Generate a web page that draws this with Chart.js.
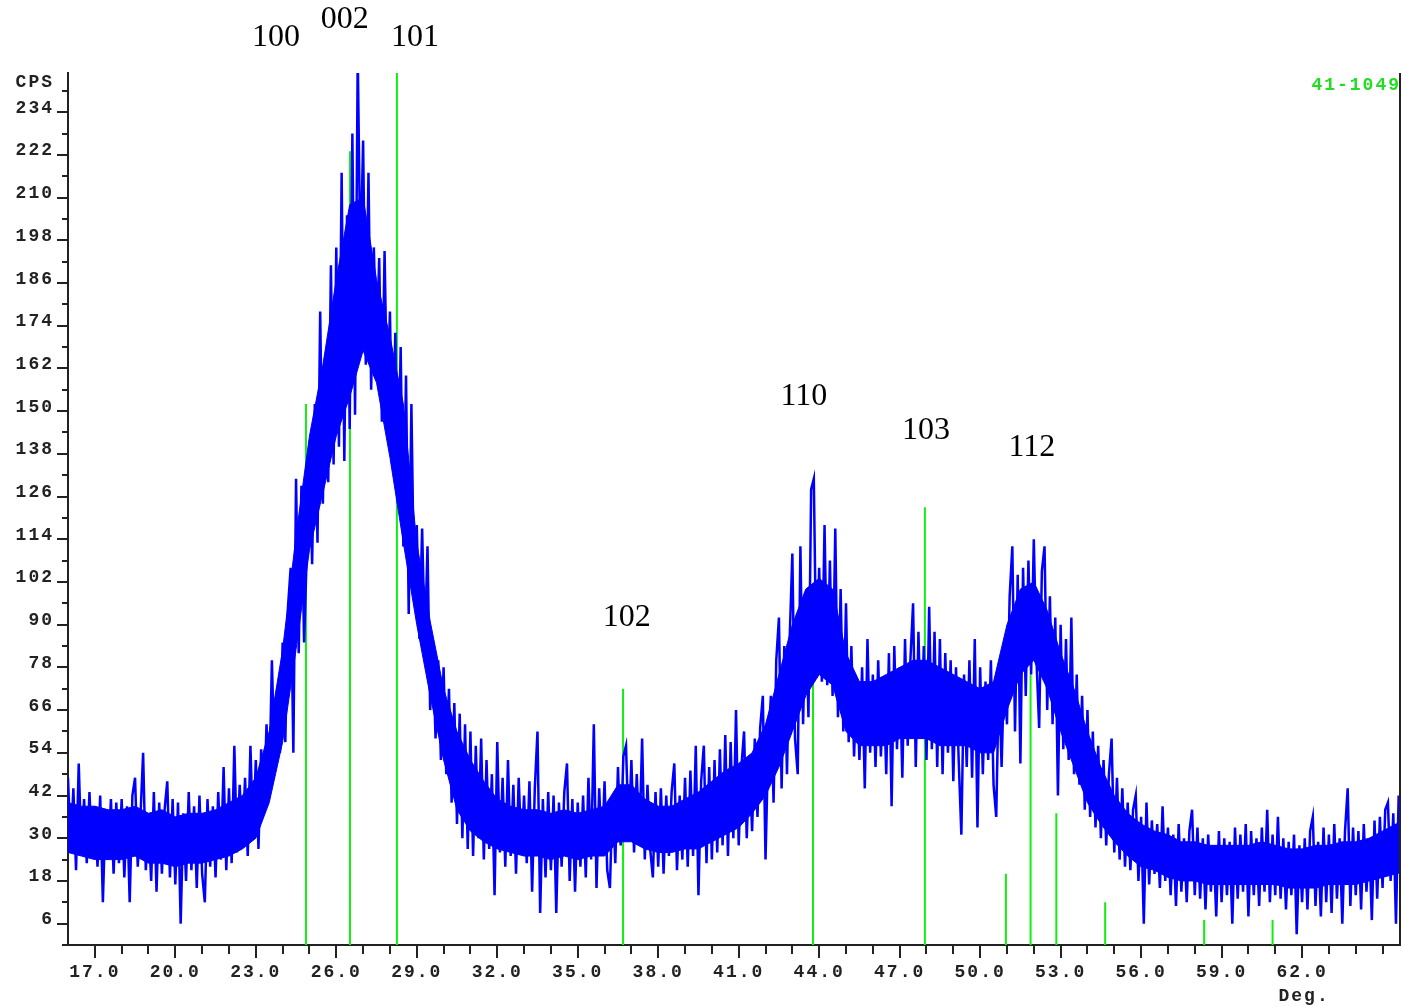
<!DOCTYPE html>
<html>
<head>
<meta charset="utf-8">
<title>XRD 41-1049</title>
<script src="https://cdn.jsdelivr.net/npm/chart.js@4.4.1/dist/chart.umd.min.js"></script>
<style>
html, body { margin: 0; padding: 0; background: #fff; }
#wrap { width: 1403px; height: 1008px; }
</style>
</head>
<body>
<div id="wrap"><canvas id="xrd" width="1403" height="1008"></canvas></div>
<script>
// scan: 16.0 deg, 0.1 deg per step
const scanStart = 16.0;
const scanStep = 0.1;

// counts, one row per degree (x.0 .. x.9)
const counts = [
  47, 27, 44, 21, 51, 26, 41, 23, 43, 25,
  39, 22, 42, 12, 38, 24, 41, 20, 40, 23,
  41, 19, 39, 12, 42, 47, 22, 36, 54, 21,
  35, 18, 43, 15, 40, 20, 38, 46, 19, 41,
  17, 40, 6, 37, 18, 43, 21, 39, 16, 42,
  20, 12, 41, 22, 39, 19, 43, 24, 50, 21,
  44, 23, 56, 26, 45, 28, 47, 25, 56, 30,
  52, 27, 55, 38, 62, 43, 80, 50, 72, 54,
  85, 57, 95, 106, 54, 131, 82, 129, 85, 110,
  140, 107, 152, 113, 178, 124, 166, 130, 191, 135,
  196, 140, 217, 136, 205, 145, 228, 149, 250, 190,
  226, 163, 217, 156, 196, 166, 193, 147, 195, 150,
  178, 134, 172, 124, 168, 112, 160, 93, 152, 100,
  118, 86, 117, 84, 112, 66, 84, 58, 80, 52,
  78, 48, 72, 40, 68, 34, 65, 30, 62, 27,
  60, 25, 56, 30, 58, 24, 52, 27, 48, 14,
  57, 26, 47, 22, 52, 25, 45, 20, 47, 26,
  42, 23, 46, 15, 44, 60, 9, 41, 19, 43,
  21, 42, 9, 40, 22, 43, 51, 18, 41, 15,
  40, 22, 42, 19, 47, 24, 62, 16, 44, 25,
  46, 21, 16, 42, 23, 50, 28, 53, 56, 30,
  52, 26, 48, 29, 58, 24, 45, 27, 19, 43,
  22, 44, 20, 42, 25, 43, 51, 21, 42, 24,
  47, 22, 49, 25, 56, 14, 46, 56, 23, 50,
  24, 52, 26, 55, 28, 59, 25, 57, 30, 66,
  28, 50, 60, 30, 52, 32, 58, 36, 61, 70,
  24, 56, 70, 40, 80, 92, 44, 84, 48, 86,
  110, 58, 48, 112, 62, 96, 64, 128, 131, 75,
  106, 74, 118, 73, 108, 70, 117, 64, 100, 60,
  96, 57, 84, 53, 74, 52, 78, 44, 86, 54,
  76, 50, 80, 53, 74, 48, 82, 39, 84, 55,
  78, 47, 86, 56, 80, 96, 50, 88, 58, 84,
  52, 95, 55, 88, 50, 86, 48, 82, 54, 80,
  46, 78, 52, 31, 76, 50, 80, 47, 86, 33,
  78, 48, 74, 52, 80, 45, 36, 76, 50, 79,
  62, 98, 112, 60, 104, 51, 106, 70, 108, 76,
  114, 80, 61, 105, 112, 66, 98, 62, 92, 42,
  90, 55, 86, 52, 92, 48, 76, 45, 70, 38,
  66, 36, 60, 33, 56, 30, 52, 28, 48, 58,
  26, 47, 24, 44, 22, 40, 21, 38, 42, 18,
  36, 6, 40, 17, 35, 20, 34, 16, 39, 18,
  33, 14, 31, 11, 34, 15, 30, 12, 32, 38,
  14, 33, 13, 30, 10, 31, 15, 28, 8, 32,
  12, 30, 14, 29, 6, 33, 13, 31, 15, 34,
  8, 32, 14, 30, 11, 33, 15, 38, 12, 31,
  14, 36, 13, 30, 10, 29, 14, 31, 3, 28,
  12, 30, 10, 32, 36, 11, 29, 8, 33, 12,
  31, 9, 34, 13, 30, 6, 32, 44, 11, 33,
  14, 32, 10, 34, 15, 30, 7, 35, 13, 36,
  16, 38, 40, 18, 37, 6, 42
];

// dense core of the noisy trace, every 0.5 deg from 16.0 (upper / lower edge)
const coreStep = 0.5;
const coreHigh = [
  40, 39, 39, 38, 38, 39, 37, 38, 36, 37,
  37, 38, 40, 42, 47, 60, 83, 115, 143, 163,
  187, 208, 210, 187, 171, 152, 113, 91, 72, 60,
  52, 46, 41, 39, 38, 38, 37, 38, 37, 38,
  39, 45, 45, 41, 39, 39, 41, 43, 46, 49,
  51, 54, 62, 76, 90, 100, 103, 100, 82, 74,
  74, 76, 78, 80, 80, 78, 76, 74, 72, 74,
  90, 100, 102, 94, 82, 72, 60, 50, 42, 37,
  34, 32, 31, 29, 29, 28, 28, 28, 28, 29,
  28, 27, 27, 28, 28, 29, 29, 30, 32, 34,
  35
];
const coreLow = [
  26, 25, 24, 24, 24, 25, 23, 23, 22, 23,
  23, 24, 25, 27, 30, 40, 57, 83, 111, 127,
  143, 154, 167, 158, 137, 113, 90, 70, 52, 38,
  32, 29, 27, 26, 25, 25, 24, 25, 24, 25,
  25, 29, 29, 27, 26, 26, 27, 27, 29, 31,
  33, 37, 42, 50, 60, 70, 76, 73, 60, 56,
  56, 56, 58, 58, 58, 56, 56, 56, 54, 54,
  66, 76, 80, 72, 60, 50, 40, 34, 29, 25,
  22, 21, 19, 18, 18, 17, 17, 17, 17, 17,
  17, 16, 16, 16, 17, 17, 17, 18, 19, 20,
  21
];

// PDF card 41-1049 stick pattern
const refAngles = [24.87, 26.51, 28.26, 36.69, 43.77, 47.94, 50.96, 51.88, 52.84, 54.66, 58.35, 60.90];
const refHeights = [152, 223, 250, 72, 92, 123, 20, 76, 37, 12, 7, 7];

// hkl annotations (angle, counts of label centre)
const hklText = ['100', '002', '101', '102', '110', '103', '112'];
const hklAngles = [23.75, 26.32, 28.93, 36.83, 43.43, 47.98, 51.93];
const hklCounts = [255, 260, 255, 92, 154, 144.5, 139.7];

const xLabels = [17, 20, 23, 26, 29, 32, 35, 38, 41, 44, 47, 50, 53, 56, 59, 62];
const yLabels = [6, 18, 30, 42, 54, 66, 78, 90, 102, 114, 126, 138, 150, 162, 174, 186, 198, 210, 222, 234];

const monoFont = '"Liberation Mono", "DejaVu Sans Mono", monospace';
const near = (list, v) => list.some(t => Math.abs(t - v) < 1e-6);

const scanPoints = counts.map((c, i) => ({ x: +(scanStart + i * scanStep).toFixed(2), y: c }));
const highPoints = coreHigh.map((c, i) => ({ x: scanStart + i * coreStep, y: c }));
const lowPoints = coreLow.map((c, i) => ({ x: scanStart + i * coreStep, y: c }));
const stickPoints = [];
refAngles.forEach((a, i) => {
    stickPoints.push({ x: a, y: 0 }, { x: a, y: refHeights[i] }, { x: a, y: null });
});

const xrdDecor = {
    id: 'xrdDecor',
    beforeDraw(chart) {
        chart.ctx.letterSpacing = '2px';
    },
    afterDraw(chart) {
        const { ctx, chartArea: a, scales: { x, y } } = chart;
        ctx.save();
        ctx.strokeStyle = '#222';
        ctx.lineWidth = 2;
        ctx.beginPath();
        ctx.moveTo(a.right, a.top);
        ctx.lineTo(a.right, a.bottom + 1);
        y.ticks.forEach(t => {
            const py = Math.round(y.getPixelForValue(t.value));
            const len = near(yLabels, t.value) ? 11 : 6;
            ctx.moveTo(a.left - len, py);
            ctx.lineTo(a.left, py);
        });
        x.ticks.forEach(t => {
            if (t.value <= x.min) return;
            const px = Math.round(x.getPixelForValue(t.value));
            const len = near(xLabels, t.value) ? 13 : 9;
            ctx.moveTo(px, a.bottom);
            ctx.lineTo(px, a.bottom + len);
        });
        ctx.stroke();

        ctx.fillStyle = '#222';
        ctx.font = 'bold 18px ' + monoFont;
        ctx.textBaseline = 'middle';
        ctx.textAlign = 'right';
        ctx.fillText('CPS', a.left - 14, y.getPixelForValue(240) - 8);
        ctx.textAlign = 'center';
        ctx.fillText('Deg.', x.getPixelForValue(62) + 2, 996);
        ctx.fillStyle = '#22dd22';
        ctx.textAlign = 'right';
        ctx.fillText('41-1049', a.right + 1, 85);

        ctx.letterSpacing = '0px';
        ctx.fillStyle = '#000';
        ctx.font = '32px "Liberation Serif", "Times New Roman", serif';
        ctx.textAlign = 'center';
        hklText.forEach((s, i) => {
            ctx.fillText(s, x.getPixelForValue(hklAngles[i]), y.getPixelForValue(hklCounts[i]));
        });
        ctx.restore();
    }
};

new Chart(document.getElementById('xrd'), {
    type: 'line',
    data: {
        datasets: [
            {
                data: scanPoints,
                borderColor: '#0000ff',
                borderWidth: 2.5,
                pointRadius: 0,
                tension: 0,
                fill: false
            },
            {
                data: highPoints,
                borderColor: '#0000ff',
                backgroundColor: '#0000ff',
                borderWidth: 1,
                pointRadius: 0,
                tension: 0,
                fill: '+1'
            },
            {
                data: lowPoints,
                borderColor: '#0000ff',
                borderWidth: 1,
                pointRadius: 0,
                tension: 0,
                fill: false
            },
            {
                data: stickPoints,
                borderColor: '#11ee11',
                borderWidth: 2,
                pointRadius: 0,
                tension: 0,
                fill: false,
                spanGaps: false
            }
        ]
    },
    options: {
        responsive: false,
        animation: false,
        devicePixelRatio: 1,
        layout: { padding: { top: 73, right: 3, left: 0, bottom: 0 } },
        plugins: { legend: { display: false }, tooltip: { enabled: false } },
        scales: {
            x: {
                type: 'linear',
                min: 16,
                max: 65.65,
                afterFit: s => { s.height = 63; },
                border: { display: true, color: '#222', width: 2 },
                grid: { display: false, drawTicks: false },
                ticks: {
                    stepSize: 1,
                    includeBounds: false,
                    autoSkip: false,
                    maxRotation: 0,
                    padding: 17,
                    color: '#222',
                    font: { family: monoFont, size: 18, weight: 'bold' },
                    callback: v => near(xLabels, v) ? Number(v).toFixed(1) : ''
                }
            },
            y: {
                type: 'linear',
                min: 0,
                max: 245,
                afterFit: s => { s.width = 68; },
                border: { display: true, color: '#222', width: 2 },
                grid: { display: false, drawTicks: false },
                ticks: {
                    stepSize: 6,
                    includeBounds: false,
                    autoSkip: false,
                    padding: 14,
                    labelOffset: -4,
                    color: '#222',
                    font: { family: monoFont, size: 18, weight: 'bold' },
                    callback: v => near(yLabels, v) ? String(Math.round(v)) : ''
                }
            }
        }
    },
    plugins: [xrdDecor]
});
</script>
</body>
</html>
